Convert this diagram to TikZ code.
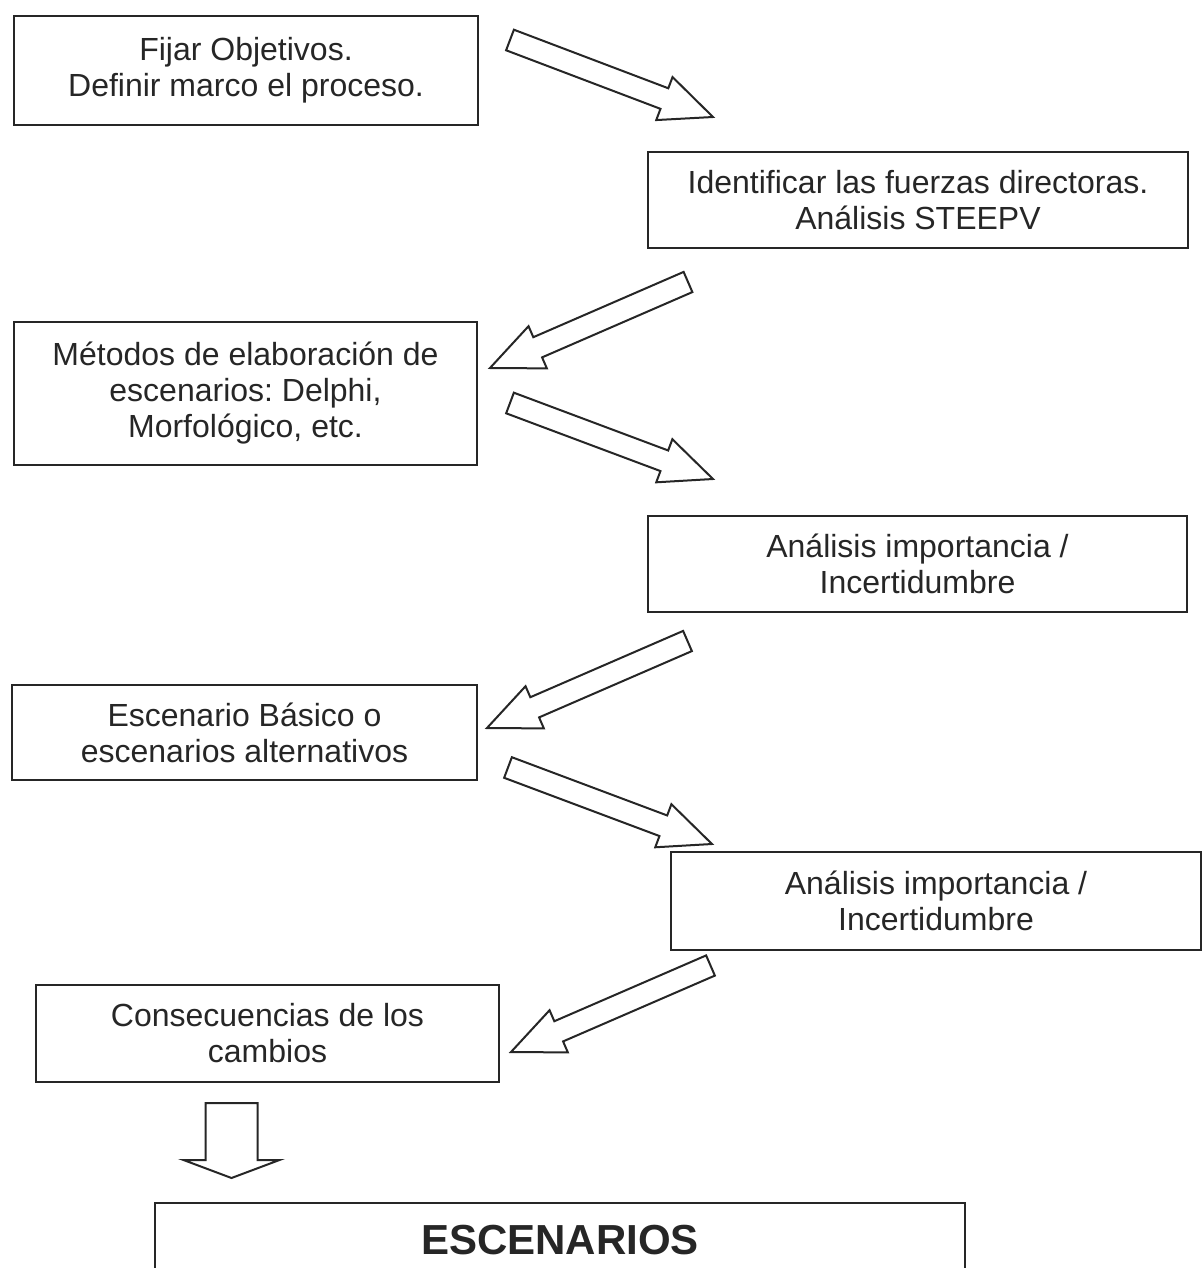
\documentclass[tikz,border=0pt]{standalone}
\usepackage{fontspec}
\setmainfont{Liberation Sans}
\usetikzlibrary{calc}
\frenchspacing
\tikzset{
  stepbox/.style={draw=black!85, line width=2.2pt, inner sep=0pt, align=center,
    font=\fontsize{32}{36}\selectfont, text=black!85},
  blockarr/.style={draw=black!85, line width=2pt, line join=miter, fill=white},
}
\newcommand\blockarrow[5]{%
  \coordinate (#1h) at ($(#2)!#5!(#1)$);
  \draw[blockarr] ($(#1)!#3!90:(#2)$) -- ($(#1h)!#3!90:(#2)$) -- ($(#1h)!#4!90:(#2)$)
    -- (#2) -- ($(#1h)!#4!-90:(#2)$) -- ($(#1h)!#3!-90:(#2)$) -- ($(#1)!#3!-90:(#2)$) -- cycle;}
\begin{document}
\begin{tikzpicture}[x=1pt,y=-1pt]
\useasboundingbox (0,0) rectangle (1203,1268);
\clip (0,0) rectangle (1203,1268);
\node[stepbox, minimum width=464pt, minimum height=109pt] (b1) at (246,70.5)
  {Fijar Objetivos.\\Definir marco el proceso.};
\node[stepbox, minimum width=540pt, minimum height=96pt] (b2) at (918,200)
  {Identificar las fuerzas directoras.\\Análisis STEEPV};
\node[stepbox, minimum width=463pt, minimum height=143pt] (b3) at (245.5,393.5)
  {Métodos de elaboración de\\escenarios: Delphi,\\Morfológico, etc.};
\node[stepbox, minimum width=539pt, minimum height=96pt] (b4) at (917.5,564)
  {Análisis importancia /\\Incertidumbre};
\node[stepbox, minimum width=465pt, minimum height=95pt] (b5) at (244.5,732.5)
  {Escenario Básico o\\escenarios alternativos};
\node[stepbox, minimum width=530pt, minimum height=98pt] (b6) at (936,901)
  {Análisis importancia /\\Incertidumbre};
\node[stepbox, minimum width=463pt, minimum height=97pt] (b7) at (267.5,1033.5)
  {Consecuencias de los\\cambios};
\node[stepbox, minimum width=810pt, minimum height=94pt, text depth=20pt,
  font=\fontsize{42}{46}\selectfont\bfseries] (b8) at (560,1250) {ESCENARIOS};
% block arrows
\coordinate (a1t) at (510,40);    \coordinate (a1e) at (713,117);
\coordinate (a2t) at (688,282);   \coordinate (a2e) at (490,368);
\coordinate (a3t) at (510,403);   \coordinate (a3e) at (713,479);
\coordinate (a4t) at (687.5,641); \coordinate (a4e) at (487,728);
\coordinate (a5t) at (508,767.5); \coordinate (a5e) at (712,844);
\coordinate (a6t) at (710.5,965.5); \coordinate (a6e) at (511,1052);
\coordinate (a7t) at (231.5,1103); \coordinate (a7e) at (231.5,1178);
\blockarrow{a1t}{a1e}{11pt}{23pt}{52pt}
\blockarrow{a2t}{a2e}{11pt}{23pt}{52pt}
\blockarrow{a3t}{a3e}{11pt}{23pt}{52pt}
\blockarrow{a4t}{a4e}{11pt}{23pt}{52pt}
\blockarrow{a5t}{a5e}{11pt}{23pt}{52pt}
\blockarrow{a6t}{a6e}{11pt}{23pt}{52pt}
\blockarrow{a7t}{a7e}{26pt}{48pt}{18pt}
\end{tikzpicture}
\end{document}
